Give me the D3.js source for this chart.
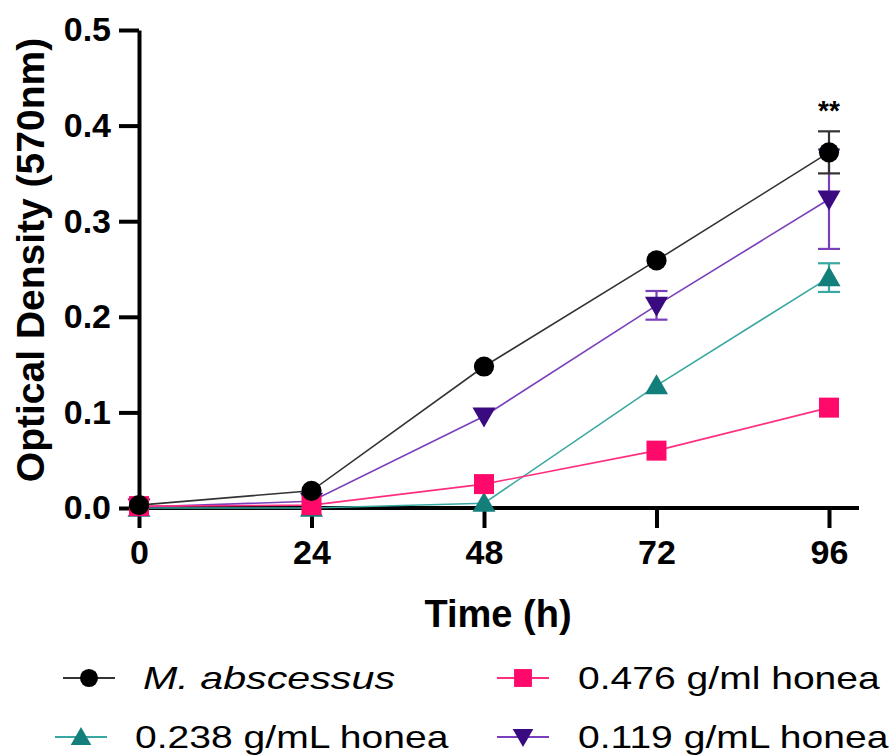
<!DOCTYPE html>
<html>
<head>
<meta charset="utf-8">
<script src="https://cdn.jsdelivr.net/npm/d3@7"></script>
<style>
  body { margin: 0; background: #fff; }
  text { font-family: "Liberation Sans", Arial, sans-serif; }
</style>
</head>
<body>
<svg id="chart" width="890" height="755"></svg>
<script>
// time points (h)
var times = [0, 24, 48, 72, 96];

// series values
var abscessus = [0.003, 0.018, 0.148, 0.259, 0.372];
var abscessusErr = [0, 0, 0, 0, 0.022];
var honea476 = [0.002, 0.003, 0.025, 0.060, 0.105];
var honea476Err = [0, 0, 0, 0, 0];
var honea238 = [0.000, 0.000, 0.005, 0.128, 0.241];
var honea238Err = [0, 0, 0, 0, 0.015];
var honea119 = [0.001, 0.007, 0.096, 0.212, 0.323];
var honea119Err = [0, 0, 0, 0.015, 0.052];

var yTicks = [0.0, 0.1, 0.2, 0.3, 0.4, 0.5];

var series = [
  {name: '0.238 g/mL honea', vals: honea238, err: honea238Err, sym: d3.symbolTriangle, fill: '#137f7a', line: '#3aa8a2', rot: 0},
  {name: '0.119 g/mL honea', vals: honea119, err: honea119Err, sym: d3.symbolTriangle, fill: '#3a0a80', line: '#7a3fbb', rot: 180},
  {name: '0.476 g/ml honea', vals: honea476, err: honea476Err, sym: d3.symbolSquare, fill: '#ff0a6a', line: '#ff2d80', rot: 0},
  {name: 'M. abscessus', vals: abscessus, err: abscessusErr, sym: d3.symbolCircle, fill: '#000000', line: '#333333', rot: 0}
];

var svg = d3.select('#chart');

var x = d3.scaleLinear().domain([0, 96]).range([139, 829]);
var y = d3.scaleLinear().domain([0, 0.5]).range([508, 30]);

// axes
var yAxis = svg.append('g')
  .attr('transform', 'translate(139,0)')
  .call(d3.axisLeft(y).tickValues(yTicks).tickFormat(d3.format('.1f')).tickSize(20).tickSizeOuter(0).tickPadding(8));
var xAxis = svg.append('g')
  .attr('transform', 'translate(0,508)')
  .call(d3.axisBottom(x).tickValues(times).tickSize(20).tickSizeOuter(0).tickPadding(12));

[yAxis, xAxis].forEach(function (a) {
  a.select('.domain').attr('stroke', '#000').attr('stroke-width', 4);
  a.selectAll('.tick line').attr('stroke', '#000').attr('stroke-width', 4);
  a.selectAll('.tick text').attr('fill', '#000').attr('font-size', 34).attr('font-weight', 'bold');
});
// extend x axis line beyond last tick
xAxis.select('.domain').attr('d', 'M139,0H859');

svg.append('text')
  .attr('transform', 'translate(44,260) rotate(-90)')
  .attr('text-anchor', 'middle')
  .attr('font-size', 39).attr('font-weight', 'bold')
  .text('Optical Density (570nm)');

svg.append('text')
  .attr('x', 498).attr('y', 627)
  .attr('text-anchor', 'middle')
  .attr('font-size', 38).attr('font-weight', 'bold')
  .text('Time (h)');

var line = d3.line().x(function (d, i) { return x(times[i]); }).y(function (d) { return y(d); });

function symSize(s, legend) {
  var k = legend ? 0.8 : 1;
  if (s.sym === d3.symbolCircle) return 320 * k;
  if (s.sym === d3.symbolSquare) return 400 * k;
  return 230 * k;
}

series.forEach(function (s) {
  var g = svg.append('g');
  g.append('path').attr('d', line(s.vals)).attr('fill', 'none').attr('stroke', s.line).attr('stroke-width', 1.6);
  s.vals.forEach(function (v, i) {
    var e = s.err[i];
    if (e > 0) {
      var cx = x(times[i]);
      var eb = g.append('g').attr('stroke', s.line).attr('stroke-width', 2.2);
      eb.append('line').attr('x1', cx).attr('x2', cx).attr('y1', y(v - e)).attr('y2', y(v + e));
      eb.append('line').attr('x1', cx - 11).attr('x2', cx + 11).attr('y1', y(v - e)).attr('y2', y(v - e));
      eb.append('line').attr('x1', cx - 11).attr('x2', cx + 11).attr('y1', y(v + e)).attr('y2', y(v + e));
    }
  });
  g.selectAll('path.pt').data(s.vals).enter().append('path')
    .attr('class', 'pt')
    .attr('d', d3.symbol().type(s.sym).size(symSize(s, false)))
    .attr('transform', function (d, i) { return 'translate(' + x(times[i]) + ',' + (y(d) + (s.sym === d3.symbolTriangle ? (s.rot ? -2 : 2) : 0)) + ') rotate(' + s.rot + ')'; })
    .attr('fill', s.fill);
});

svg.append('text')
  .attr('x', x(96)).attr('y', 120)
  .attr('text-anchor', 'middle')
  .attr('font-size', 28).attr('font-weight', 'bold')
  .text('**');

// legend
var legendPos = [
  {s: 3, lx: 63, ly: 678, tx: 143},
  {s: 2, lx: 497, ly: 678, tx: 578},
  {s: 0, lx: 55, ly: 737, tx: 135},
  {s: 1, lx: 497, ly: 737, tx: 578}
];
legendPos.forEach(function (p) {
  var s = series[p.s];
  var italic = s.name === 'M. abscessus';
  var g = svg.append('g').attr('transform', 'translate(' + p.lx + ',' + p.ly + ')');
  g.append('line').attr('x1', 0).attr('x2', 52).attr('y1', 0).attr('y2', 0).attr('stroke', s.line).attr('stroke-width', 1.8);
  g.append('path')
    .attr('d', d3.symbol().type(s.sym).size(symSize(s, true)))
    .attr('transform', 'translate(26,' + (s.sym === d3.symbolTriangle ? (s.rot ? -2 : 2) : 0) + ') rotate(' + s.rot + ')')
    .attr('fill', s.fill);
  svg.append('text')
    .attr('transform', 'translate(' + p.tx + ',' + (p.ly + 11) + ') scale(' + (italic ? 1.33 : 1.26) + ',1)')
    .attr('font-size', 31)
    .attr('font-style', italic ? 'italic' : 'normal')
    .text(s.name);
});
</script>
</body>
</html>
